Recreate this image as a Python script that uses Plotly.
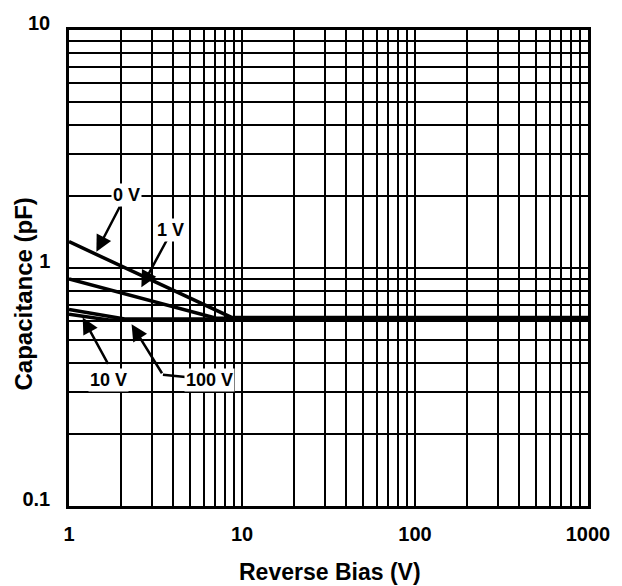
import math
import plotly.graph_objects as go

# ---- data ----
bias_0v = [1, 8.7, 1000]
cap_0v = [1.29, 0.62, 0.62]
bias_1v = [1, 7.1, 1000]
cap_1v = [0.90, 0.615, 0.615]
bias_10v = [1, 2.1, 1000]
cap_10v = [0.67, 0.61, 0.61]
bias_100v = [1, 1.7, 1000]
cap_100v = [0.64, 0.605, 0.605]

x_ticks = [1, 10, 100, 1000]
x_ticktext = ["1", "10", "100", "1000"]
y_ticks = [0.1, 1, 10]
y_ticktext = ["0.1", "1", "10"]

curve_names = ["0 V", "1 V", "10 V", "100 V"]

# label centres, arrow tails and arrow tips (data units)
label_pos = {"0 V": (2.15, 2.02), "1 V": (3.87, 1.44), "10 V": (1.70, 0.34), "100 V": (6.5, 0.34)}
arrow_tail = {"0 V": (1.99, 1.84), "1 V": (3.72, 1.33), "10 V": (1.70, 0.39), "100 V": (3.49, 0.356)}
arrow_tip = {"0 V": (1.44, 1.17), "1 V": (2.62, 0.83), "10 V": (1.2, 0.62), "100 V": (2.30, 0.58)}

minor_x = [m * d for d in (1, 10, 100) for m in range(2, 10)]
minor_y = [m * d for d in (0.1, 1) for m in range(2, 10)]

FONT = "Liberation Sans, Arial"

fig = go.Figure()
for xs, ys in [(bias_0v, cap_0v), (bias_1v, cap_1v), (bias_10v, cap_10v), (bias_100v, cap_100v)]:
    fig.add_trace(go.Scatter(x=xs, y=ys, mode="lines",
                             line=dict(color="black", width=3.5), showlegend=False,
                             hoverinfo="skip"))

L = math.log10
annotations = []
# elbow connector for 100 V
annotations.append(dict(x=L(arrow_tail["100 V"][0]), y=L(arrow_tail["100 V"][1]),
                        ax=L(label_pos["100 V"][0]), ay=L(label_pos["100 V"][1]),
                        xref="x", yref="y", axref="x", ayref="y", text="",
                        showarrow=True, arrowhead=0, arrowwidth=2.5, arrowcolor="black"))
for name in curve_names:
    tx, ty = arrow_tip[name]
    sx, sy = arrow_tail[name]
    annotations.append(dict(x=L(tx), y=L(ty), ax=L(sx), ay=L(sy),
                            xref="x", yref="y", axref="x", ayref="y", text="",
                            showarrow=True, arrowhead=2, arrowsize=1.3,
                            arrowwidth=2.5, arrowcolor="black"))
for name in curve_names:
    lx, ly = label_pos[name]
    annotations.append(dict(x=L(lx), y=L(ly), xref="x", yref="y", text="<b>%s</b>" % name,
                            showarrow=False, bgcolor="white", borderpad=1,
                            font=dict(family=FONT, size=18, color="black")))

# axis titles
annotations.append(dict(x=0.503, y=-0.138, xref="paper", yref="paper",
                        text="<b>Reverse Bias (V)</b>", showarrow=False,
                        xanchor="center", yanchor="middle",
                        font=dict(family=FONT, size=23, color="black")))
annotations.append(dict(x=-0.087, y=0.446, xref="paper", yref="paper",
                        text="<b>Capacitance (pF)</b>", showarrow=False, textangle=-90,
                        xanchor="center", yanchor="middle",
                        font=dict(family=FONT, size=24, color="black")))

axis_common = dict(showline=True, linecolor="black", linewidth=2.5, mirror=True,
                   showgrid=True, gridcolor="black", gridwidth=2, ticks="",
                   zeroline=False, ticklabeloverflow="allow",
                   tickfont=dict(family=FONT, size=20, color="black"))

fig.update_layout(
    width=622, height=586,
    margin=dict(l=69, r=22, t=13, b=80),
    paper_bgcolor="white", plot_bgcolor="white",
    annotations=annotations,
    xaxis=dict(type="log", range=[0, 3], tickvals=x_ticks, ticktext=["<b>%s</b>" % t for t in x_ticktext],
               minor=dict(tickvals=minor_x, showgrid=True, gridcolor="black", gridwidth=2, ticks=""),
               ticklabelstandoff=8, **axis_common),
    yaxis=dict(type="log", range=[-1, 1], tickvals=y_ticks, ticktext=["<b>%s</b>" % t for t in y_ticktext],
               minor=dict(tickvals=minor_y, showgrid=True, gridcolor="black", gridwidth=2, ticks=""),
               ticklabelstandoff=12, ticklabelshift=-7, **axis_common),
)

fig.write_html("out.html")
